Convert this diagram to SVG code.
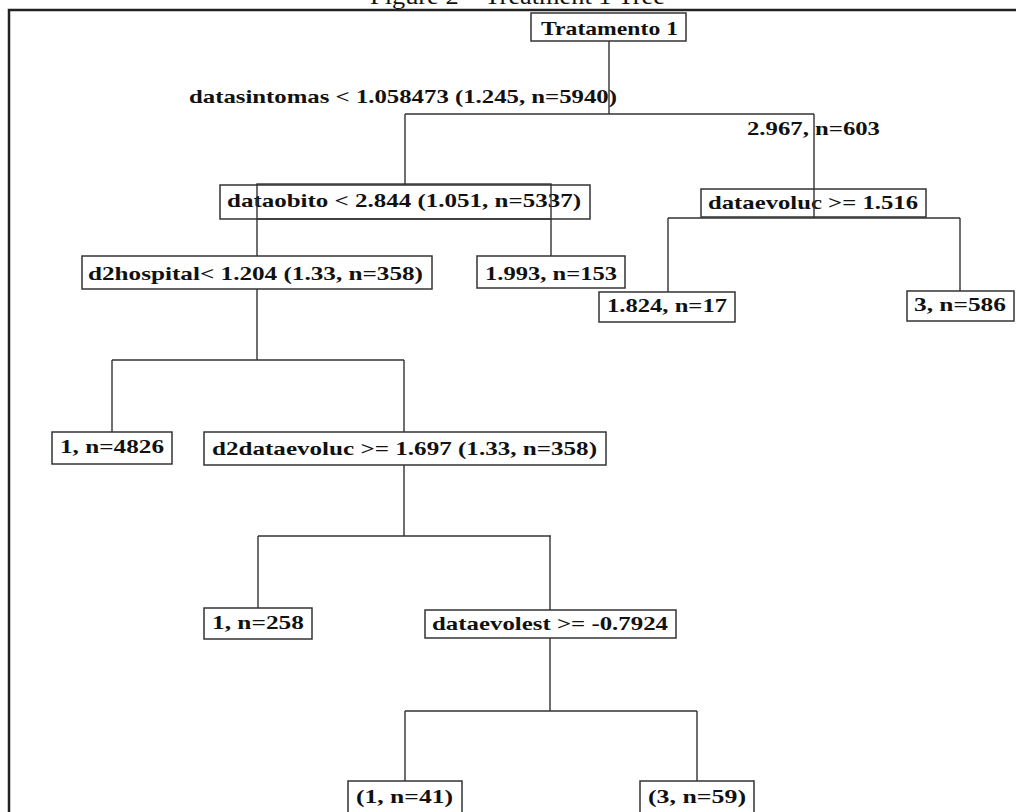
<svg xmlns="http://www.w3.org/2000/svg" width="1016" height="812" viewBox="0 0 1016 812">
<style>
.frame{fill:none;stroke:#222;stroke-width:2.5}
.box{fill:#fff;stroke:#333;stroke-width:1.5}
.ln{fill:none;stroke:#333;stroke-width:1.4}
.t{font-family:"Liberation Serif","Times New Roman",serif;font-weight:bold;font-size:19px;fill:#111}
.title{font-family:"Liberation Serif","Times New Roman",serif;font-size:24px;fill:#111}
</style>
<rect width="1016" height="812" fill="#fff"/>
<text class="title" x="370" y="4" textLength="295" lengthAdjust="spacingAndGlyphs">Figure 2 – Treatment 1 Tree</text>
<path class="frame" d="M9,812 V10 H1016"/>

<g id="connectors">
<path class="ln" d="M609,41 V114 M405,114 H814 M405,114 V185 M814,114 V218"/>
<path class="ln" d="M668,218 H960 M668,218 V292 M960,218 V291"/>
<path class="ln" d="M257,184 V256 M551,184 V256"/>
<path class="ln" d="M257,289 V360 M112,360 H404 M112,360 V432 M404,360 V432"/>
<path class="ln" d="M404,465 V536 M258,536 H551 M258,536 V608 M550,536 V610"/>
<path class="ln" d="M550,638 V711 M405,711 H697 M405,711 V781 M697,711 V781"/>
<text class="t" x="189" y="103" textLength="428" lengthAdjust="spacingAndGlyphs">datasintomas &lt; 1.058473 (1.245, n=5940)</text>
<text class="t" x="747" y="135" textLength="133" lengthAdjust="spacingAndGlyphs">2.967, n=603</text>
</g>

<g id="n-root">
<rect class="box" x="531" y="13" width="155" height="28"/>
<text class="t" x="541" y="35" textLength="137" lengthAdjust="spacingAndGlyphs">Tratamento 1</text>
</g>

<g id="n-dataobito">
<rect class="box" x="220" y="185" width="370" height="34"/>
<text class="t" x="227" y="207" textLength="354" lengthAdjust="spacingAndGlyphs">dataobito &lt; 2.844 (1.051, n=5337)</text>
<rect x="257" y="184" width="294" height="35" fill="none" stroke="#333" stroke-width="1.4"/>
</g>

<g id="n-dataevoluc">
<rect class="box" x="701" y="189" width="225" height="28"/>
<text class="t" x="708" y="209" textLength="210" lengthAdjust="spacingAndGlyphs">dataevoluc &gt;= 1.516</text>
<path class="ln" d="M814,189 V217"/>
</g>

<g id="n-d2hospital">
<rect class="box" x="82" y="256" width="350" height="33"/>
<text class="t" x="88" y="280" textLength="335" lengthAdjust="spacingAndGlyphs">d2hospital&lt; 1.204 (1.33, n=358)</text>
</g>

<g id="n-1993">
<rect class="box" x="477" y="256" width="148" height="32"/>
<text class="t" x="485" y="280" textLength="132" lengthAdjust="spacingAndGlyphs">1.993, n=153</text>
</g>

<g id="n-1824">
<rect class="box" x="599" y="292" width="136" height="30"/>
<text class="t" x="607" y="312" textLength="120" lengthAdjust="spacingAndGlyphs">1.824, n=17</text>
</g>

<g id="n-586">
<rect class="box" x="907" y="291" width="107" height="30"/>
<text class="t" x="914" y="311" textLength="92" lengthAdjust="spacingAndGlyphs">3, n=586</text>
</g>

<g id="n-4826">
<rect class="box" x="52" y="432" width="120" height="32"/>
<text class="t" x="60" y="453" textLength="104" lengthAdjust="spacingAndGlyphs">1, n=4826</text>
</g>

<g id="n-d2dataevoluc">
<rect class="box" x="204" y="432" width="402" height="33"/>
<text class="t" x="212" y="455" textLength="385" lengthAdjust="spacingAndGlyphs">d2dataevoluc &gt;= 1.697 (1.33, n=358)</text>
</g>

<g id="n-258">
<rect class="box" x="204" y="608" width="108" height="31"/>
<text class="t" x="212" y="629" textLength="92" lengthAdjust="spacingAndGlyphs">1, n=258</text>
</g>

<g id="n-dataevolest">
<rect class="box" x="425" y="610" width="251" height="28"/>
<text class="t" x="432" y="630" textLength="236" lengthAdjust="spacingAndGlyphs">dataevolest &gt;= -0.7924</text>
</g>

<g id="n-41">
<rect class="box" x="348" y="781" width="114" height="40"/>
<text class="t" x="356" y="803" textLength="97" lengthAdjust="spacingAndGlyphs">(1, n=41)</text>
</g>

<g id="n-59">
<rect class="box" x="640" y="781" width="114" height="40"/>
<text class="t" x="648" y="803" textLength="98" lengthAdjust="spacingAndGlyphs">(3, n=59)</text>
</g>
</svg>
